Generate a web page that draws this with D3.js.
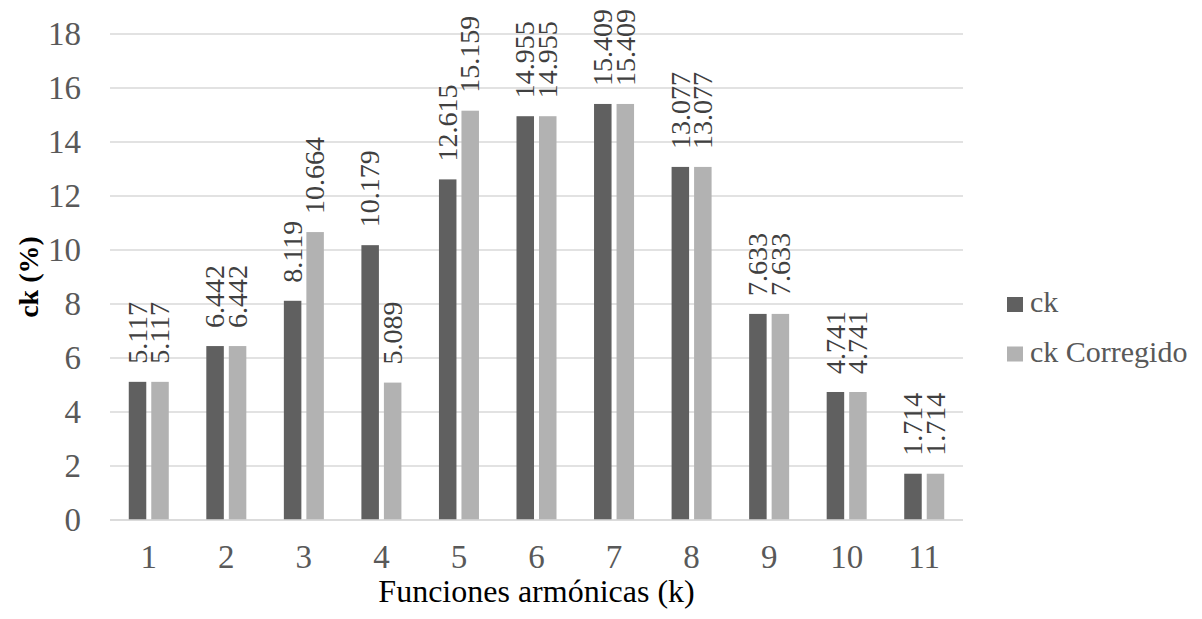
<!DOCTYPE html>
<html>
<head>
<meta charset="utf-8">
<script src="https://cdn.jsdelivr.net/npm/d3@7"></script>
<style>
  html, body { margin: 0; padding: 0; background: #fff; }
  svg { display: block; }
  svg text { font-family: "Liberation Serif", "Times New Roman", serif; }
</style>
</head>
<body>
<svg id="chart" width="1202" height="619"></svg>
<script>
// Harmonic functions k = 1..11
const categories = ["1", "2", "3", "4", "5", "6", "7", "8", "9", "10", "11"];
const seriesNames = ["ck", "ck Corregido"];
const ckValues = [5.117, 6.442, 8.119, 10.179, 12.615, 14.955, 15.409, 13.077, 7.633, 4.741, 1.714];
const ckCorregidoValues = [5.117, 6.442, 10.664, 5.089, 15.159, 14.955, 15.409, 13.077, 7.633, 4.741, 1.714];
const yTicks = [0, 2, 4, 6, 8, 10, 12, 14, 16, 18];
const labelFormat = d3.format(".3f");

const colors = { "ck": "#606060", "ck Corregido": "#b2b2b2" };
const serif = "'Liberation Serif', 'Times New Roman', serif";

const svg = d3.select("#chart");
const plot = { left: 110, right: 963, top: 34, bottom: 520 };

const x0 = d3.scaleBand().domain(categories).range([plot.left, plot.right]).padding(0);
const x1 = d3.scaleBand().domain(seriesNames).range([0, x0.bandwidth()])
  .paddingInner(0.222).paddingOuter(0.834);
const y = d3.scaleLinear().domain([0, 18]).range([plot.bottom, plot.top]);

// Horizontal gridlines
svg.append("g")
  .selectAll("line")
  .data(yTicks)
  .join("line")
  .attr("x1", plot.left).attr("x2", plot.right)
  .attr("y1", d => y(d)).attr("y2", d => y(d))
  .attr("stroke", "#d9d9d9").attr("stroke-width", 1.5);

// Y axis tick labels
const yAxis = d3.axisLeft(y).tickValues(yTicks).tickSize(0).tickPadding(0);
const gy = svg.append("g").attr("transform", `translate(${81},0)`).call(yAxis);
gy.attr("font-family", serif);
gy.select(".domain").remove();
gy.selectAll("text")
  .attr("fill", "#595959")
  .style("font-size", "33px")
  .style("font-family", serif);

// X axis tick labels
const xAxis = d3.axisBottom(x0).tickSize(0).tickPadding(0);
const gx = svg.append("g").attr("transform", `translate(0,${plot.bottom})`).call(xAxis);
gx.attr("font-family", serif);
gx.select(".domain").remove();
gx.selectAll("text")
  .attr("fill", "#595959")
  .attr("dy", null)
  .attr("y", 48)
  .style("font-size", "33px")
  .style("font-family", serif);

// Bars and value labels
const rows = categories.map((c, i) => ({
  cat: c,
  values: [
    { name: "ck", value: ckValues[i] },
    { name: "ck Corregido", value: ckCorregidoValues[i] }
  ]
}));

const groups = svg.append("g")
  .selectAll("g")
  .data(rows)
  .join("g")
  .attr("transform", d => `translate(${x0(d.cat)},0)`);

groups.selectAll("rect")
  .data(d => d.values)
  .join("rect")
  .attr("x", d => x1(d.name))
  .attr("width", x1.bandwidth())
  .attr("y", d => y(d.value))
  .attr("height", d => y(0) - y(d.value))
  .attr("fill", d => colors[d.name]);

const labelSize = 28;
groups.selectAll("text.val")
  .data(d => d.values)
  .join("text")
  .attr("class", "val")
  .attr("transform", d => {
    const cx = x1(d.name) + x1.bandwidth() / 2 + labelSize * 0.33;
    const ty = y(d.value) - 18;
    return `translate(${cx},${ty}) rotate(-90)`;
  })
  .attr("text-anchor", "start")
  .attr("fill", "#404040")
  .style("font-family", serif)
  .style("font-size", labelSize + "px")
  .text(d => labelFormat(d.value));

// Baseline
svg.append("line")
  .attr("x1", plot.left).attr("x2", plot.right)
  .attr("y1", y(0)).attr("y2", y(0))
  .attr("stroke", "#d9d9d9").attr("stroke-width", 1.5);

// Axis titles
svg.append("text")
  .attr("transform", `translate(${(plot.left + plot.right) / 2},${602})`)
  .attr("text-anchor", "middle")
  .attr("fill", "#000")
  .style("font-family", serif)
  .style("font-size", "32px")
  .text("Funciones armónicas (k)");

svg.append("text")
  .attr("transform", `translate(${38},${(plot.top + plot.bottom) / 2}) rotate(-90)`)
  .attr("text-anchor", "middle")
  .attr("fill", "#000")
  .style("font-family", serif)
  .style("font-size", "28px")
  .style("font-weight", "bold")
  .text("ck (%)");

// Legend
const legend = svg.append("g")
  .selectAll("g")
  .data(seriesNames)
  .join("g")
  .attr("transform", (d, i) => `translate(${1007},${297 + i * 49.5})`);

legend.append("rect")
  .attr("width", 16).attr("height", 15)
  .attr("fill", d => colors[d]);

legend.append("text")
  .attr("x", 23).attr("y", 15)
  .attr("fill", "#595959")
  .style("font-family", serif)
  .style("font-size", "30px")
  .text(d => d);
</script>
</body>
</html>
